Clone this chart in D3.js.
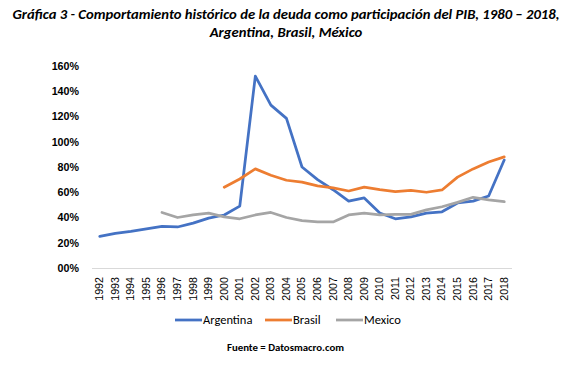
<!DOCTYPE html>
<html>
<head>
<meta charset="utf-8">
<script src="https://cdn.jsdelivr.net/npm/d3@7"></script>
<style>
  body { margin: 0; background: #fff; }
  svg { display: block; font-family: Carlito, Calibri, "Liberation Sans", sans-serif; }
</style>
</head>
<body>
<div id="chart"></div>
<script>
// Deuda pública como % del PIB
const years = d3.range(1992, 2019).map(String);
const argentina = [25, 27.5, 29, 31, 33, 32.5, 35.5, 39.5, 42, 49, 152, 129, 118.5, 80, 70, 62, 53, 55.5, 43.5, 39, 40.5, 43.5, 44.5, 51.5, 53, 57, 85.5];
const brasil = [null, null, null, null, null, null, null, null, 64, 70.5, 78.5, 73.5, 69.5, 68, 65, 63.5, 61, 64, 62, 60.5, 61.5, 60, 61.8, 72, 78.5, 84, 88];
const mexico = [null, null, null, null, 44, 40, 42, 43.5, 40.5, 39, 42, 44, 40, 37.5, 36.5, 36.5, 42, 43.5, 42, 42.5, 42.5, 46, 48.5, 52, 56, 54, 52.5];
const yTicks = [0, 20, 40, 60, 80, 100, 120, 140, 160];
const seriesNames = ['Argentina', 'Brasil', 'Mexico'];
const seriesColors = ['#4472C4', '#ED7D31', '#A5A5A5'];

const width = 571, height = 365;
const svg = d3.select('#chart').append('svg')
  .attr('width', width).attr('height', height);

// titulo
const title = svg.append('text')
  .attr('text-anchor', 'middle')
  .attr('font-weight', 'bold').attr('font-style', 'italic')
  .attr('font-size', 14.67).attr('fill', '#000');
title.append('tspan').attr('x', 286).attr('y', 19)
  .text('Gráfica 3 - Comportamiento histórico de la deuda como participación del PIB, 1980 – 2018,');
title.append('tspan').attr('x', 286).attr('y', 36.5)
  .text('Argentina, Brasil, México');

// escalas
const x = d3.scaleBand().domain(years).range([92, 512]);
const y = d3.scaleLinear().domain([0, 160]).range([268, 66]);

// eje y (solo etiquetas)
svg.append('g')
  .attr('transform', 'translate(82,0)')
  .call(d3.axisLeft(y).tickValues(yTicks).tickSize(0)
    .tickFormat(d => (d === 0 ? '00' : d) + '%'))
  .call(g => g.select('.domain').remove())
  .selectAll('text')
    .attr('font-size', 10.7).attr('font-weight', 'bold')
    .attr('fill', '#000').attr('font-family', 'inherit');

// eje x
svg.append('g')
  .attr('transform', 'translate(0,268)')
  .call(d3.axisBottom(x).tickSize(0))
  .call(g => g.select('.domain').attr('stroke', '#D9D9D9').attr('d', 'M92,0.5H512'))
  .selectAll('text')
    .attr('font-size', 10.7).attr('fill', '#000').attr('font-family', 'inherit')
    .attr('transform', 'rotate(-90)')
    .attr('text-anchor', 'end')
    .attr('x', -9).attr('y', 0).attr('dy', '0.32em');

// lineas
const line = d3.line()
  .defined(d => d != null)
  .x((d, i) => x(years[i]) + x.bandwidth() / 2)
  .y(d => y(d));

[argentina, brasil, mexico].forEach((vals, k) => {
  svg.append('path')
    .attr('d', line(vals))
    .attr('fill', 'none')
    .attr('stroke', seriesColors[k])
    .attr('stroke-width', 2.75)
    .attr('stroke-linejoin', 'round')
    .attr('stroke-linecap', 'round');
});

// leyenda
const legendX = [175, 265, 336];
const legend = svg.append('g');
seriesNames.forEach((name, k) => {
  const g = legend.append('g').attr('transform', `translate(${legendX[k]},320)`);
  g.append('line').attr('x1', 0).attr('x2', 27).attr('y1', 0).attr('y2', 0)
    .attr('stroke', seriesColors[k]).attr('stroke-width', 2.75);
  g.append('text').attr('x', 28).attr('y', 0).attr('dy', '0.35em')
    .attr('font-size', 12.5).attr('fill', '#000').text(name);
});

// fuente
svg.append('text')
  .attr('x', 285.5).attr('y', 351).attr('text-anchor', 'middle')
  .attr('font-size', 10.8).attr('font-weight', 'bold').attr('fill', '#000')
  .text('Fuente = Datosmacro.com');
</script>
</body>
</html>
